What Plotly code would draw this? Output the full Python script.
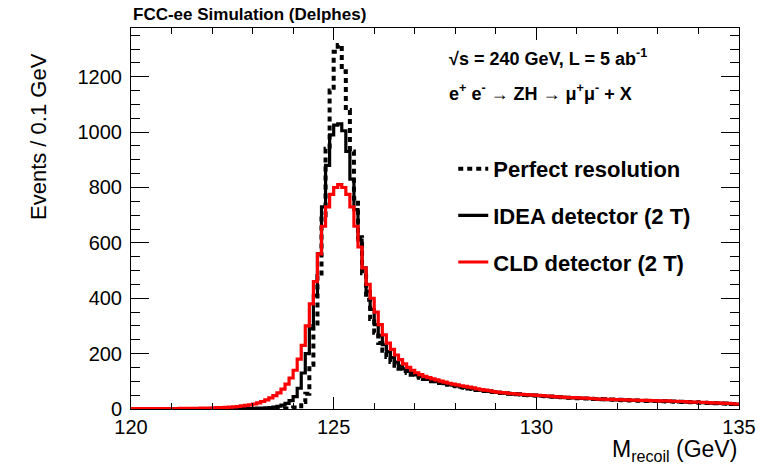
import numpy as np
import plotly.graph_objects as go

# Histogram definition: 150 bins of 0.1 GeV from 120 to 135 GeV
bin_lo = 120.0
bin_width = 0.1

perfect = [
    0, 0, 0, 0, 0, 0, 0, 0, 0, 0,
    0, 0, 0, 0, 0, 0, 0, 0, 0, 0,
    0, 0, 0, 0, 0, 0, 0, 0, 0, 0,
    0, 0, 0, 0, 0, 1, 1, 1, 2, 3,
    5, 10, 25, 55, 160, 300, 480, 700, 940, 1150,
    1290, 1315, 1220, 1080, 930, 760, 620, 490, 395, 325,
    275, 238, 210, 188, 170, 156, 145, 137, 130, 124,
    118, 113, 108, 104, 100, 97, 94, 91, 88, 85,
    82, 79, 77, 74, 72, 69, 67, 65, 63, 61,
    59, 58, 56, 55, 54, 53, 52, 51, 50, 49,
    48, 47, 46, 45, 44, 43, 42, 41, 41, 40,
    39, 38, 38, 37, 36, 36, 35, 34, 34, 33,
    33, 32, 32, 31, 31, 30, 30, 29, 29, 29,
    28, 28, 27, 27, 26, 26, 25, 25, 24, 24,
    23, 23, 22, 22, 21, 20, 20, 19, 18, 18,
]

idea = [
    0, 0, 0, 0, 0, 0, 0, 0, 0, 0,
    0, 0, 0, 0, 0, 0, 0, 0, 0, 0,
    0, 0, 1, 1, 1, 1, 1, 1, 2, 2,
    2, 3, 3, 4, 5, 7, 10, 14, 20, 30,
    45, 75, 130, 200, 290, 410, 560, 730, 880, 990,
    1025, 1030, 1005, 930, 830, 720, 610, 510, 425, 360,
    305, 265, 232, 207, 186, 169, 155, 145, 137, 130,
    123, 117, 112, 107, 103, 99, 96, 92, 89, 86,
    83, 80, 78, 75, 73, 70, 68, 66, 64, 62,
    60, 58, 57, 55, 54, 53, 52, 51, 50, 49,
    48, 47, 46, 45, 44, 43, 42, 41, 40, 40,
    39, 38, 38, 37, 36, 35, 35, 34, 34, 33,
    33, 32, 32, 31, 31, 30, 30, 30, 29, 29,
    28, 28, 28, 27, 27, 26, 26, 25, 24, 24,
    23, 23, 22, 21, 21, 20, 19, 19, 18, 17,
]

cld = [
    1, 1, 1, 1, 1, 1, 1, 1, 1, 1,
    1, 1, 2, 2, 2, 2, 2, 3, 3, 3,
    4, 5, 5, 6, 7, 8, 9, 11, 13, 15,
    18, 22, 27, 33, 40, 48, 58, 72, 90, 112,
    140, 180, 230, 300, 380, 460, 560, 660, 730, 775,
    800, 810, 800, 775, 730, 660, 585, 510, 450, 400,
    350, 305, 268, 238, 215, 195, 178, 163, 150, 140,
    131, 124, 118, 113, 109, 105, 101, 97, 93, 90,
    87, 84, 82, 79, 76, 73, 70, 68, 66, 63,
    61, 59, 58, 56, 55, 54, 53, 52, 51, 50,
    49, 48, 47, 46, 45, 44, 43, 42, 41, 41,
    40, 39, 39, 38, 37, 36, 36, 35, 35, 34,
    34, 33, 33, 32, 32, 31, 31, 31, 30, 30,
    29, 29, 29, 28, 28, 27, 27, 26, 25, 25,
    24, 24, 23, 22, 22, 21, 20, 20, 19, 18,
]

series_names = ["Perfect resolution", "IDEA detector (2 T)", "CLD detector (2 T)"]
series_colors = ["black", "black", "#ff0000"]

x_tick_vals = [120, 125, 130, 135]
y_tick_vals = [0, 200, 400, 600, 800, 1000, 1200]

FONT = "Liberation Sans, Arial, Helvetica, sans-serif"

def step_xy(values):
    n = len(values)
    edges = np.round(bin_lo + bin_width * np.arange(n + 1), 4)
    y = list(values) + [values[-1]]
    return edges, y

fig = go.Figure()
styles = [
    dict(color=series_colors[0], width=4, dash="5px,4px"),
    dict(color=series_colors[1], width=3.2),
    dict(color=series_colors[2], width=3.2),
]
for i, (vals, name) in enumerate(zip([perfect, idea, cld], series_names)):
    ex, ey = step_xy(vals)
    fig.add_trace(go.Scatter(
        x=ex, y=ey, mode="lines", name=name,
        line=dict(shape="hv", **styles[i]),
        legendgroup=f"g{i}",
        hoverinfo="skip",
    ))

axis_common = dict(
    showline=True, linecolor="black", linewidth=1, mirror="ticks",
    ticks="inside", tickcolor="black", tickwidth=1,
    showgrid=False, zeroline=False,
    tickfont=dict(family=FONT, size=20, color="black"),
)

fig.update_xaxes(
    range=[120, 135], tickvals=x_tick_vals, ticklen=12,
    minor=dict(ticks="inside", dtick=1, ticklen=6, tickcolor="black", tickwidth=1, showgrid=False),
    **axis_common,
)
fig.update_yaxes(
    range=[0, 1376], tickvals=y_tick_vals, ticklen=18, ticklabelstandoff=4,
    minor=dict(ticks="inside", dtick=50, ticklen=9, tickcolor="black", tickwidth=1, showgrid=False),
    **axis_common,
)

fig.update_layout(
    width=768, height=469,
    margin=dict(l=131, r=29, t=28, b=60),
    paper_bgcolor="white", plot_bgcolor="white",
    font=dict(family=FONT, color="black"),
    showlegend=True,
    legend=dict(
        x=0.53, y=0.685, xanchor="left", yanchor="top",
        bgcolor="rgba(0,0,0,0)", borderwidth=0,
        font=dict(family=FONT, size=22, color="black", weight="bold"),
        traceorder="grouped", tracegroupgap=15,
    ),
    annotations=[
        dict(text="<b>FCC-ee Simulation (Delphes)</b>", xref="paper", yref="paper",
             x=0, y=1, xanchor="left", yanchor="bottom", yshift=2, showarrow=False,
             font=dict(family=FONT, size=17, color="black")),
        dict(text="<b>√s = 240 GeV, L = 5 ab<sup>-1</sup></b>", xref="paper", yref="paper",
             x=(447 - 131) / 608, y=(409 - 58) / 381, xanchor="left", yanchor="middle",
             showarrow=False, font=dict(family=FONT, size=18, color="black")),
        dict(text="<b>e<sup>+</sup> e<sup>-</sup> → ZH → μ<sup>+</sup>μ<sup>-</sup> + X</b>",
             xref="paper", yref="paper",
             x=(447 - 131) / 608, y=(409 - 93) / 381, xanchor="left", yanchor="middle",
             showarrow=False, font=dict(family=FONT, size=18, color="black")),
        dict(text="Events / 0.1 GeV", xref="paper", yref="paper",
             x=(38 - 131) / 608, y=(409 - 137) / 381, xanchor="center", yanchor="middle",
             textangle=-90, showarrow=False, font=dict(family=FONT, size=22, color="black")),
        dict(text="M<sub>recoil</sub> (GeV)", xref="paper", yref="paper",
             x=1, y=(409 - 450) / 381, xanchor="right", yanchor="middle",
             showarrow=False, font=dict(family=FONT, size=23, color="black")),
    ],
)

fig.write_html("out.html")
